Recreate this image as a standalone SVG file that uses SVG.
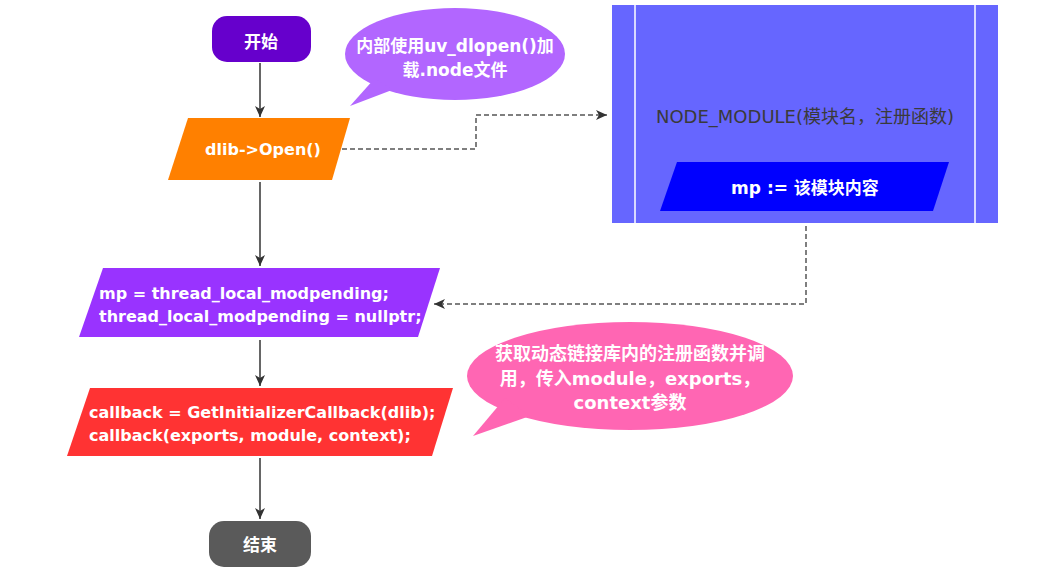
<svg xmlns="http://www.w3.org/2000/svg" width="1041" height="577" viewBox="0 0 1041 577">
<defs>
<marker id="ah" markerWidth="12" markerHeight="12" viewBox="0 0 12 12" refX="11" refY="6" orient="auto" markerUnits="userSpaceOnUse">
<path d="M0,1 L11,6 L0,11 L3,6 Z" fill="#333"/>
</marker>
<style>
.t{font-family:"DejaVu Sans","Noto Sans CJK SC",sans-serif;font-weight:bold;font-size:16px;fill:#fff}
.c{text-anchor:middle}
.z{font-size:17px}
.flow{stroke:#333;stroke-width:1.5;fill:none}
.dash{stroke:#555;stroke-width:1.5;fill:none;stroke-dasharray:5 3}
</style>
</defs>
<rect width="1041" height="577" fill="#fff"/>
<g id="connectors">
<path class="flow" d="M260,63 V117" marker-end="url(#ah)"/>
<path class="flow" d="M260,182 V266" marker-end="url(#ah)"/>
<path class="flow" d="M260,340 V386" marker-end="url(#ah)"/>
<path class="flow" d="M260,458 V519" marker-end="url(#ah)"/>
<path class="dash" d="M342,149 H476 V115 H607" marker-end="url(#ah)"/>
<path class="dash" d="M806,226 V304 H434" marker-end="url(#ah)"/>
</g>
<g id="start">
<rect x="212" y="16" width="99" height="46" rx="15" fill="#6600CC"/>
<text class="t c z" x="261" y="48">开始</text>
</g>
<g id="callout1">
<ellipse cx="455" cy="54" rx="110" ry="46" fill="#B266FF"/>
<path d="M350,106 L392,90 L375,78 Z" fill="#B266FF"/>
<text class="t c z" x="455" y="52">内部使用uv_dlopen()加</text>
<text class="t c z" x="455" y="76">载.node文件</text>
</g>
<g id="open">
<polygon points="188,118 350,118 332,180 168,180" fill="#FF8000"/>
<text class="t c" x="263" y="155">dlib-&gt;Open()</text>
</g>
<g id="module">
<rect x="612" y="5" width="386" height="218" fill="#6666FF"/>
<line x1="635" y1="5" x2="635" y2="223" stroke="#fff" stroke-width="1.5"/>
<line x1="975" y1="5" x2="975" y2="223" stroke="#fff" stroke-width="1.5"/>
<text class="t c" x="805" y="123" style="fill:#3a3a3a;font-weight:normal;font-size:18px">NODE_MODULE(模块名，注册函数)</text>
<polygon points="677,162 949,162 933,211 660,211" fill="#0000FF"/>
<text class="t c z" x="805" y="194">mp := 该模块内容</text>
</g>
<g id="mp">
<polygon points="103,268 440,268 418,337 79,337" fill="#9933FF"/>
<text class="t" x="99" y="299">mp = thread_local_modpending;</text>
<text class="t" x="99" y="322">thread_local_modpending = nullptr;</text>
</g>
<g id="callback">
<polygon points="90,388 453,388 432,456 67,456" fill="#FF3333"/>
<text class="t" x="89" y="418">callback = GetInitializerCallback(dlib);</text>
<text class="t" x="89" y="441">callback(exports, module, context);</text>
</g>
<g id="callout2">
<ellipse cx="630" cy="376" rx="163" ry="54" fill="#FF66B3"/>
<path d="M473,436 L530,416 L505,398 Z" fill="#FF66B3"/>
<text class="t c" x="630" y="360" style="font-size:18px">获取动态链接库内的注册函数并调</text>
<text class="t c" x="630" y="385" style="font-size:18px">用，传入module，exports，</text>
<text class="t c" x="630" y="409" style="font-size:18px">context参数</text>
</g>
<g id="end">
<rect x="209" y="521" width="102" height="46" rx="15" fill="#5A5A5A"/>
<text class="t c z" x="260" y="551">结束</text>
</g>
</svg>
